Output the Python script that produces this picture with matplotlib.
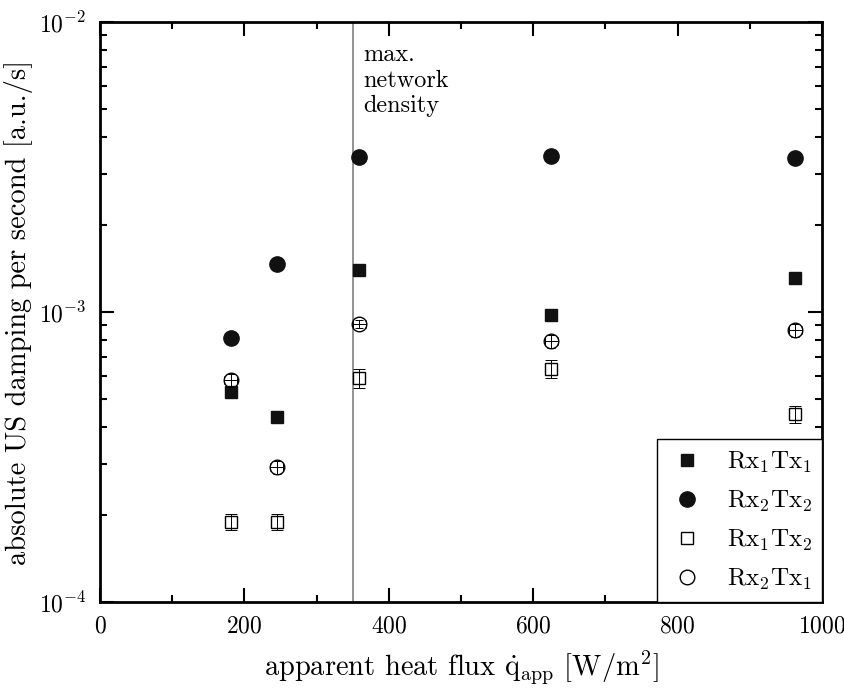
import matplotlib
matplotlib.use("Agg")
import matplotlib.pyplot as plt
from matplotlib.ticker import LogLocator, MultipleLocator, NullFormatter

plt.rcParams['font.family'] = 'serif'
plt.rcParams['font.serif'] = ['cmr10', 'DejaVu Serif']
plt.rcParams['mathtext.fontset'] = 'cm'
plt.rcParams['axes.formatter.use_mathtext'] = True

# heat flux [W/m^2]
heat_flux = [181, 245, 359, 625, 963]

# damping per second [a.u./s]
rx1tx1 = [5.30e-4, 4.34e-4, 1.40e-3, 9.76e-4, 1.31e-3]
rx2tx2 = [8.13e-4, 1.466e-3, 3.42e-3, 3.44e-3, 3.40e-3]
rx1tx2 = [1.89e-4, 1.89e-4, 5.92e-4, 6.36e-4, 4.45e-4]
rx2tx1 = [5.83e-4, 2.92e-4, 9.09e-4, 7.94e-4, 8.67e-4]

# small error bars on the open markers
rx1tx2_err = [0.12e-4, 0.12e-4, 0.45e-4, 0.45e-4, 0.3e-4]
rx2tx1_err = [0.3e-4, 0.15e-4, 0.3e-4, 0.4e-4, 0.45e-4]
xerr = [9, 9, 9, 9, 9]

labels = [r'$\mathrm{Rx_1Tx_1}$', r'$\mathrm{Rx_2Tx_2}$',
          r'$\mathrm{Rx_1Tx_2}$', r'$\mathrm{Rx_2Tx_1}$']

max_density = 350

fig = plt.figure(figsize=(8.45, 6.89), dpi=100)
ax = fig.add_axes([0.1183, 0.1263, 0.8545, 0.8417])

ax.axvline(max_density, color='#808080', lw=1.2, zorder=1)

h1, = ax.plot(heat_flux, rx1tx1, 's', ms=9.3, color='#111111', zorder=4)
h2, = ax.plot(heat_flux, rx2tx2, 'o', ms=11, color='#111111', zorder=4)
h3, = ax.plot(heat_flux, rx1tx2, 's', ms=8.8, mfc='white', mec='black',
              mew=1.0, zorder=3)
h4, = ax.plot(heat_flux, rx2tx1, 'o', ms=10.5, mfc='white', mec='black',
              mew=1.0, zorder=3)
ax.errorbar(heat_flux, rx1tx2, yerr=rx1tx2_err, fmt='none', ecolor='black',
            elinewidth=0.7, capsize=4, capthick=0.7, zorder=5)
ax.errorbar(heat_flux, rx2tx1, yerr=rx2tx1_err, xerr=xerr, fmt='none',
            ecolor='black', elinewidth=0.7, capsize=3, capthick=0.7, zorder=5)

ax.set_yscale('log')
ax.set_xlim(0, 1000)
ax.set_ylim(1e-4, 1e-2)
ax.xaxis.set_major_locator(MultipleLocator(200))
ax.xaxis.set_minor_locator(MultipleLocator(100))
ax.yaxis.set_major_locator(LogLocator(base=10, numticks=10))
ax.yaxis.set_minor_locator(LogLocator(base=10, subs=range(2, 10), numticks=10))
ax.yaxis.set_minor_formatter(NullFormatter())

ax.tick_params(which='both', direction='in', top=True, right=True,
               labelsize=17, width=1.5, pad=10)
ax.tick_params(which='major', length=10)
ax.tick_params(which='minor', length=5)
for sp in ax.spines.values():
    sp.set_linewidth(2)

ax.set_xlabel(r'apparent heat flux $\dot{\mathrm{q}}_{\mathrm{app}}$ [W/m$^2$]',
              fontsize=20.5, labelpad=8)
ax.set_ylabel('absolute US damping per second [a.u./s]', fontsize=20.5,
              labelpad=4)

ax.text(max_density + 14, 8.4e-3, 'max.\nnetwork\ndensity', fontsize=17.5,
        va='top', ha='left', linespacing=1.2)

leg = ax.legend([h1, h2, h3, h4], labels, loc='lower right',
                fontsize=18, frameon=True, fancybox=False, edgecolor='black',
                framealpha=1, borderaxespad=0.0, handlelength=1.6,
                handletextpad=0.8, labelspacing=0.55, borderpad=0.4)
leg.get_frame().set_linewidth(1.0)

fig.savefig('out.png', dpi=100)
